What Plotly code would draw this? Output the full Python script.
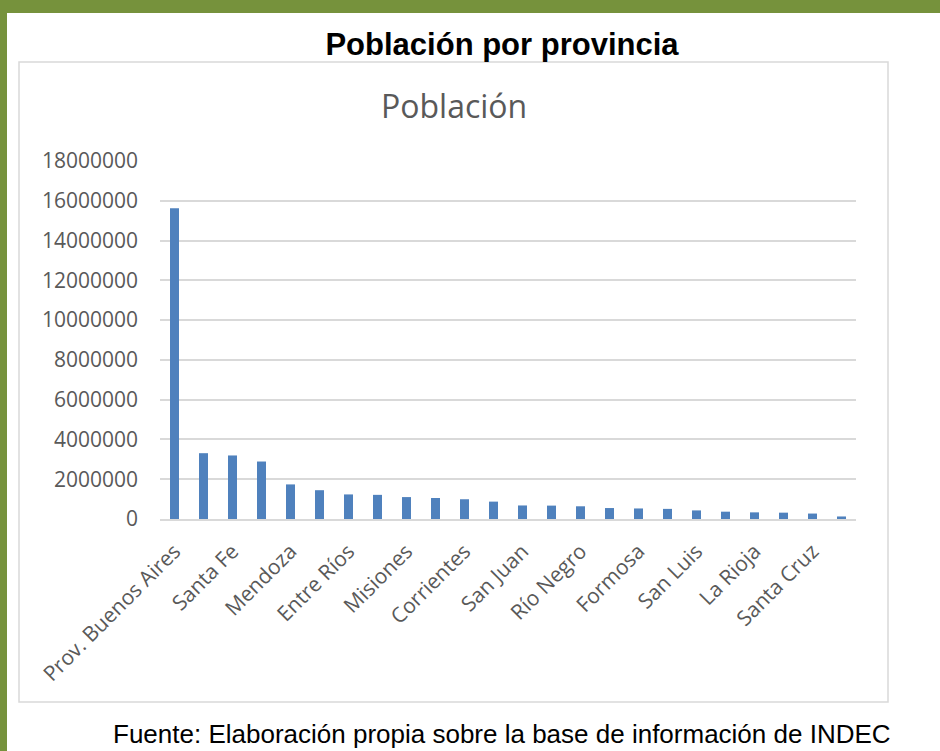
import plotly.graph_objects as go

provincias = [
    "Prov. Buenos Aires", "Córdoba", "Santa Fe", "CABA", "Mendoza", "Tucumán",
    "Entre Ríos", "Salta", "Misiones", "Chaco", "Corrientes", "Santiago del Estero",
    "San Juan", "Jujuy", "Río Negro", "Neuquén", "Formosa", "Chubut",
    "San Luis", "Catamarca", "La Rioja", "La Pampa", "Santa Cruz", "Tierra del Fuego",
]
poblacion = [
    15625000, 3309000, 3195000, 2890000, 1739000, 1448000,
    1236000, 1214000, 1102000, 1055000, 993000, 874000,
    681000, 673000, 639000, 551000, 530000, 509000,
    432000, 368000, 334000, 319000, 274000, 127000,
]
etiquetas_visibles = provincias[::2]
y_ticks = [0, 2000000, 4000000, 6000000, 8000000, 10000000, 12000000, 14000000, 16000000, 18000000]

W, H = 940, 751
L, R, T, B = 160, 856, 161, 519

def px(x):
    return (x - L) / (R - L)

def py(y):
    return (B - y) / (B - T)

fig = go.Figure(go.Bar(
    x=provincias, y=poblacion, marker_color="#4F81BD", marker_line_width=0,
))

GREEN = "#76923C"
fig.update_layout(
    width=W, height=H,
    margin=dict(l=L, r=W - R, t=T, b=H - B, pad=0),
    paper_bgcolor="white", plot_bgcolor="white",
    showlegend=False,
    bargap=0.69,
    font=dict(family="Open Sans", color="#595959"),
    title=dict(
        text="<b>Población por provincia</b>",
        font=dict(family="Liberation Sans", size=31, color="black"),
        x=502 / W, xanchor="center", xref="container",
        y=1 - 44 / H, yanchor="middle", yref="container",
    ),
    shapes=[
        dict(type="rect", xref="paper", yref="paper", x0=px(0), x1=px(W), y0=py(0), y1=py(13),
             fillcolor=GREEN, line_width=0, layer="below"),
        dict(type="rect", xref="paper", yref="paper", x0=px(0), x1=px(7), y0=py(0), y1=py(H),
             fillcolor=GREEN, line_width=0, layer="below"),
        dict(type="rect", xref="paper", yref="paper", x0=px(19), x1=px(888), y0=py(62), y1=py(702),
             fillcolor="rgba(0,0,0,0)", line=dict(color="#D9D9D9", width=1.5), layer="below"),
    ],
    annotations=[
        dict(text="Población", xref="paper", yref="paper", x=px(453.5), y=py(106),
             xanchor="center", yanchor="middle", showarrow=False,
             font=dict(family="Open Sans", size=32, color="#595959")),
        dict(text="Fuente: Elaboración propia sobre la base de información de INDEC",
             xref="paper", yref="paper", x=px(502), y=py(734),
             xanchor="center", yanchor="middle", showarrow=False,
             font=dict(family="Liberation Sans", size=26, color="black")),
    ],
)

fig.update_xaxes(
    type="category",
    tickmode="array", tickvals=etiquetas_visibles, ticktext=etiquetas_visibles,
    tickangle=-45, tickfont=dict(size=21, color="#595959"),
    showgrid=False, showline=True, linecolor="#D9D9D9", linewidth=1.5,
    ticks="", ticklabelstandoff=10,
)
fig.update_yaxes(
    range=[0, 18000000], tickmode="array", tickvals=y_ticks,
    ticktext=[str(v) for v in y_ticks],
    tickfont=dict(size=21, color="#595959"),
    showgrid=True, gridcolor="#D9D9D9", gridwidth=1.5,
    zeroline=False, showline=False, ticks="", ticklabelstandoff=21,
)

fig.write_html(
    "out.html",
    config={"displayModeBar": False},
    post_script="document.body.style.margin='0';document.body.style.padding='0';",
)
